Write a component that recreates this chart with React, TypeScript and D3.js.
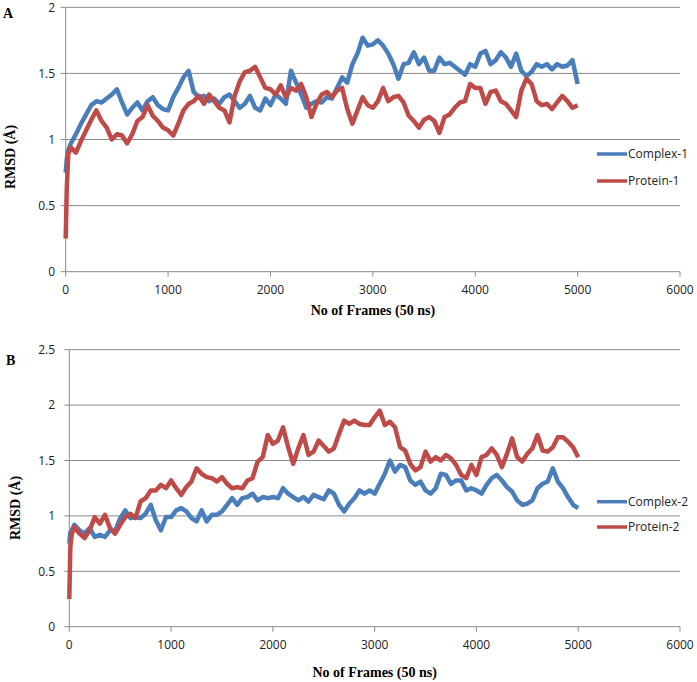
import React from "react";
import * as d3 from "d3";

// Sampling grid of frames (x positions where values were read)
const frames: number[] = [0, 10, 25, ...d3.range(50, 5001, 50)];

const xTicks = [0, 1000, 2000, 3000, 4000, 5000, 6000];
const yTicksA = [0, 0.5, 1, 1.5, 2];
const yTicksB = [0, 0.5, 1, 1.5, 2, 2.5];

const complex1 = [0.75, 0.85, 0.92,
  0.97, 1.04, 1.12, 1.19, 1.26, 1.29, 1.28, 1.31, 1.34, 1.38,
  1.28, 1.19, 1.24, 1.28, 1.22, 1.29, 1.32, 1.26, 1.23, 1.22,
  1.32, 1.39, 1.47, 1.52, 1.36, 1.32, 1.33, 1.29, 1.31, 1.27,
  1.32, 1.34, 1.29, 1.24, 1.27, 1.33, 1.24, 1.22, 1.31, 1.26,
  1.34, 1.31, 1.27, 1.52, 1.43, 1.34, 1.24, 1.27, 1.29, 1.28,
  1.32, 1.31, 1.39, 1.47, 1.43, 1.57, 1.65, 1.77, 1.71, 1.72,
  1.75, 1.71, 1.65, 1.57, 1.46, 1.57, 1.58, 1.66, 1.57, 1.62,
  1.52, 1.52, 1.62, 1.57, 1.58, 1.55, 1.52, 1.49, 1.57, 1.55,
  1.65, 1.67, 1.57, 1.60, 1.66, 1.62, 1.55, 1.65, 1.52, 1.48,
  1.51, 1.57, 1.55, 1.57, 1.53, 1.57, 1.55, 1.56, 1.60, 1.42];

const protein1 = [0.25, 0.62, 0.89,
  0.94, 0.90, 0.99, 1.07, 1.15, 1.22, 1.14, 1.09, 1.00, 1.04,
  1.03, 0.97, 1.04, 1.14, 1.17, 1.26, 1.18, 1.14, 1.09, 1.07,
  1.03, 1.12, 1.22, 1.27, 1.29, 1.33, 1.27, 1.34, 1.29, 1.24,
  1.22, 1.13, 1.33, 1.44, 1.51, 1.52, 1.55, 1.47, 1.39, 1.38,
  1.34, 1.41, 1.32, 1.39, 1.37, 1.42, 1.32, 1.17, 1.27, 1.34,
  1.36, 1.32, 1.37, 1.39, 1.23, 1.12, 1.22, 1.32, 1.26, 1.24,
  1.29, 1.39, 1.29, 1.32, 1.33, 1.28, 1.18, 1.14, 1.09, 1.15,
  1.17, 1.14, 1.05, 1.17, 1.19, 1.24, 1.28, 1.29, 1.42, 1.39,
  1.39, 1.27, 1.36, 1.37, 1.29, 1.27, 1.22, 1.17, 1.37, 1.46,
  1.42, 1.29, 1.26, 1.27, 1.23, 1.28, 1.33, 1.29, 1.24, 1.26];

const complex2 = [0.75, 0.85, 0.87,
  0.92, 0.87, 0.84, 0.89, 0.81, 0.83, 0.81, 0.87, 0.86, 0.98,
  1.05, 0.98, 0.99, 0.98, 1.02, 1.10, 0.96, 0.87, 0.99, 0.99,
  1.05, 1.07, 1.04, 0.98, 0.95, 1.05, 0.95, 1.01, 1.01, 1.04,
  1.10, 1.16, 1.10, 1.16, 1.17, 1.20, 1.14, 1.17, 1.16, 1.17,
  1.16, 1.25, 1.20, 1.17, 1.14, 1.17, 1.13, 1.19, 1.17, 1.15,
  1.23, 1.20, 1.10, 1.04, 1.11, 1.16, 1.23, 1.20, 1.23, 1.20,
  1.29, 1.38, 1.50, 1.40, 1.46, 1.44, 1.32, 1.28, 1.31, 1.23,
  1.20, 1.25, 1.38, 1.37, 1.29, 1.32, 1.32, 1.23, 1.25, 1.23,
  1.20, 1.28, 1.34, 1.37, 1.32, 1.26, 1.22, 1.14, 1.10, 1.11,
  1.14, 1.25, 1.29, 1.31, 1.43, 1.31, 1.25, 1.17, 1.10, 1.07];

const protein2 = [0.25, 0.72, 0.84,
  0.90, 0.84, 0.80, 0.87, 0.99, 0.93, 1.01, 0.89, 0.84, 0.92,
  0.99, 1.02, 0.98, 1.13, 1.16, 1.23, 1.23, 1.28, 1.25, 1.32,
  1.25, 1.19, 1.26, 1.31, 1.43, 1.38, 1.35, 1.34, 1.31, 1.35,
  1.29, 1.25, 1.26, 1.25, 1.32, 1.34, 1.49, 1.53, 1.73, 1.65,
  1.68, 1.80, 1.62, 1.47, 1.61, 1.73, 1.55, 1.58, 1.68, 1.63,
  1.58, 1.61, 1.74, 1.86, 1.83, 1.86, 1.83, 1.82, 1.82, 1.89,
  1.95, 1.82, 1.85, 1.80, 1.62, 1.59, 1.47, 1.41, 1.44, 1.58,
  1.49, 1.53, 1.50, 1.55, 1.52, 1.46, 1.37, 1.34, 1.46, 1.37,
  1.53, 1.55, 1.61, 1.55, 1.44, 1.56, 1.70, 1.53, 1.49, 1.56,
  1.61, 1.73, 1.59, 1.58, 1.62, 1.71, 1.71, 1.67, 1.62, 1.53];

const BLUE = "#4a7ebb";
const RED = "#be4b48";
const GRID = "#8a8a8a";
const TICKFONT = "'Open Sans', sans-serif";
const TITLEFONT = "'Liberation Serif', 'Times New Roman', serif";

type PanelProps = {
  label: string;
  x0: number; x1: number; yTop: number; yBot: number;
  yMax: number; yTicks: number[];
  series: { name: string; values: number[]; color: string }[];
  legendY: number[];
  labelPos: [number, number];
  yTitlePos: [number, number];
  xTitleY: number;
};

function Panel(p: PanelProps) {
  const x = d3.scaleLinear().domain([0, 6000]).range([p.x0, p.x1]);
  const y = d3.scaleLinear().domain([0, p.yMax]).range([p.yBot, p.yTop]);
  const line = d3.line<number>().x((_, i) => x(frames[i])).y((v) => y(v));
  return (
    <g>
      <text x={p.labelPos[0]} y={p.labelPos[1]} fontFamily={TITLEFONT} fontWeight="bold" fontSize={14}>{p.label}</text>
      {p.yTicks.map((t) => (
        <g key={t}>
          {t > 0 && <line x1={p.x0} x2={p.x1} y1={y(t)} y2={y(t)} stroke={GRID} strokeWidth={1} />}
          <line x1={p.x0 - 5} x2={p.x0} y1={y(t)} y2={y(t)} stroke={GRID} strokeWidth={1} />
          <text x={55} y={y(t)} dy="0.35em" textAnchor="end" fontFamily={TICKFONT} fontSize={12} fill="#222">{t}</text>
        </g>
      ))}
      <line x1={p.x0} x2={p.x0} y1={p.yTop} y2={p.yBot} stroke={GRID} strokeWidth={1} />
      <line x1={p.x0} x2={p.x1} y1={p.yBot} y2={p.yBot} stroke={GRID} strokeWidth={1} />
      {xTicks.map((t) => (
        <g key={t}>
          <line x1={x(t)} x2={x(t)} y1={p.yBot} y2={p.yBot + 5} stroke={GRID} strokeWidth={1} />
          <text x={x(t)} y={p.yBot + 22} textAnchor="middle" fontFamily={TICKFONT} fontSize={12} fill="#222">{t}</text>
        </g>
      ))}
      {p.series.map((s) => (
        <path key={s.name} d={line(s.values) || ""} fill="none" stroke={s.color} strokeWidth={4.5} strokeLinejoin="round" />
      ))}
      {p.series.map((s, i) => (
        <g key={s.name + "l"}>
          <line x1={597} x2={627} y1={p.legendY[i]} y2={p.legendY[i]} stroke={s.color} strokeWidth={3.5} />
          <text x={628} y={p.legendY[i]} dy="0.35em" fontFamily={TICKFONT} fontSize={12} fill="#222">{s.name}</text>
        </g>
      ))}
      <text transform={`translate(${p.yTitlePos[0]},${p.yTitlePos[1]}) rotate(-90)`} textAnchor="middle" fontFamily={TITLEFONT} fontWeight="bold" fontSize={14}>RMSD (Å)</text>
      <text x={(p.x0 + p.x1) / 2} y={p.xTitleY} textAnchor="middle" fontFamily={TITLEFONT} fontWeight="bold" fontSize={14}>No of Frames (50 ns)</text>
    </g>
  );
}

export default function App() {
  return (
    <svg width={697} height={682} style={{ position: "absolute", left: 0, top: 0, background: "#fff" }}>
      <Panel label="A" x0={65.7} x1={680} yTop={7.3} yBot={271.7} yMax={2} yTicks={yTicksA}
        series={[{ name: "Complex-1", values: complex1, color: BLUE }, { name: "Protein-1", values: protein1, color: RED }]}
        legendY={[154, 181]} labelPos={[3, 18]} yTitlePos={[15, 157]} xTitleY={315} />
      <Panel label="B" x0={69.3} x1={680} yTop={349.7} yBot={626.7} yMax={2.5} yTicks={yTicksB}
        series={[{ name: "Complex-2", values: complex2, color: BLUE }, { name: "Protein-2", values: protein2, color: RED }]}
        legendY={[501.7, 527]} labelPos={[6, 365]} yTitlePos={[20, 508]} xTitleY={677} />
    </svg>
  );
}
